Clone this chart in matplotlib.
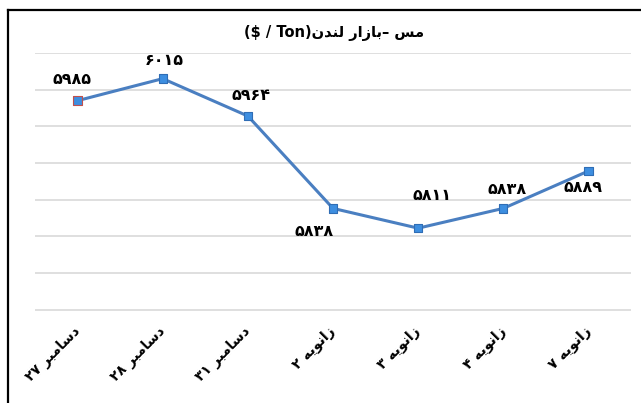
import matplotlib
matplotlib.use("Agg")
import matplotlib.pyplot as plt
from matplotlib.lines import Line2D

# Persian text has to be shaped by hand: matplotlib draws glyphs as given,
# so we map letters to presentation forms and flip to visual order.
FORMS = {
    'ا': ('\uFE8D', '\uFE8E', None, None),
    'ب': ('\uFE8F', '\uFE90', '\uFE91', '\uFE92'),
    'د': ('\uFEA9', '\uFEAA', None, None),
    'ر': ('\uFEAD', '\uFEAE', None, None),
    'ز': ('\uFEAF', '\uFEB0', None, None),
    'س': ('\uFEB1', '\uFEB2', '\uFEB3', '\uFEB4'),
    'ل': ('\uFEDD', '\uFEDE', '\uFEDF', '\uFEE0'),
    'م': ('\uFEE1', '\uFEE2', '\uFEE3', '\uFEE4'),
    'ن': ('\uFEE5', '\uFEE6', '\uFEE7', '\uFEE8'),
    'ه': ('\uFEE9', '\uFEEA', '\uFEEB', '\uFEEC'),
    'و': ('\uFEED', '\uFEEE', None, None),
    'ی': ('\uFBFC', '\uFBFD', '\uFBFE', '\uFBFF'),
}
PERSIAN_DIGITS = '۰۱۲۳۴۵۶۷۸۹'


def shape_word(word):
    if all(c in PERSIAN_DIGITS for c in word):
        return word
    out = []
    for i, c in enumerate(word):
        if c not in FORMS:
            out.append(c)
            continue
        prev = word[i - 1] if i > 0 else None
        nxt = word[i + 1] if i + 1 < len(word) else None
        join_prev = prev in FORMS and FORMS[prev][2] is not None
        join_next = FORMS[c][2] is not None and nxt in FORMS
        iso, fin, ini, med = FORMS[c]
        if join_prev and join_next:
            out.append(med)
        elif join_prev:
            out.append(fin)
        elif join_next:
            out.append(ini)
        else:
            out.append(iso)
    return ''.join(reversed(out))


def rtl(text):
    return ' '.join(shape_word(w) for w in reversed(text.split(' ')))


def fa_num(n):
    return ''.join(PERSIAN_DIGITS[int(d)] for d in str(n))


# data
categories = ['دسامبر ۲۷', 'دسامبر ۲۸', 'دسامبر ۳۱',
              'زانویه ۲', 'زانویه ۳', 'زانویه ۴', 'زانویه ۷']
prices = [5985, 6015, 5964, 5838, 5811, 5838, 5889]

# label offsets in pixels (dx, dy)
label_offsets = [(-6, 21), (1, 18), (3, 21), (-19, -23), (14, 33), (4, 19), (-5, -16)]

title = '($ / Ton)' + shape_word('لندن') + ' ' + shape_word('بازار') + '– ' + shape_word('مس')

plt.rcParams['font.family'] = ['DejaVu Sans']

fig = plt.figure(figsize=(6.41, 4.03), dpi=100)
ax = fig.add_axes([35 / 641, 1 - 311 / 403, 596 / 641, 258 / 403])

x = list(range(len(prices)))
ax.plot(x, prices, color='#4a7fc1', linewidth=2.2, zorder=3)
edge = ['#c0504d'] + ['#2f6db5'] * (len(prices) - 1)
ax.scatter(x, prices, marker='s', s=36, color='#3d8ee0', edgecolors=edge,
           linewidths=0.8, zorder=4)

for xi, val, (dx, dy) in zip(x, prices, label_offsets):
    ax.annotate(fa_num(val), (xi, val), xytext=(dx, dy), textcoords='offset pixels',
                ha='center', va='center', fontsize=11.5, fontweight='bold', color='black')

ax.set_xlim(-0.5, len(prices) - 0.5)
ax.set_ylim(5698, 6050)
ax.set_yticks(range(5700, 6051, 50))
ax.yaxis.grid(True, color='#d9d9d9', linewidth=1.2)
ax.set_axisbelow(True)
ax.tick_params(axis='y', left=False, labelleft=False)
ax.tick_params(axis='x', length=0, pad=13)
ax.set_xticks(x)
ax.set_xticklabels([rtl(c) for c in categories], rotation=45, ha='right', va='center',
                   rotation_mode='anchor', fontsize=10, fontweight='bold')
for s in ax.spines.values():
    s.set_visible(False)

fig.text(334 / 641, 1 - 33 / 403, title, ha='center', va='center',
         fontsize=10.5, fontweight='bold')

# frame: only left and top edges show in the crop
fig.add_artist(Line2D([8 / 641, 8 / 641], [0, 1 - 10 / 403], transform=fig.transFigure,
                      color='black', linewidth=1.6))
fig.add_artist(Line2D([8 / 641, 1], [1 - 10 / 403, 1 - 10 / 403], transform=fig.transFigure,
                      color='black', linewidth=1.6))

fig.savefig('out.png', dpi=100)
